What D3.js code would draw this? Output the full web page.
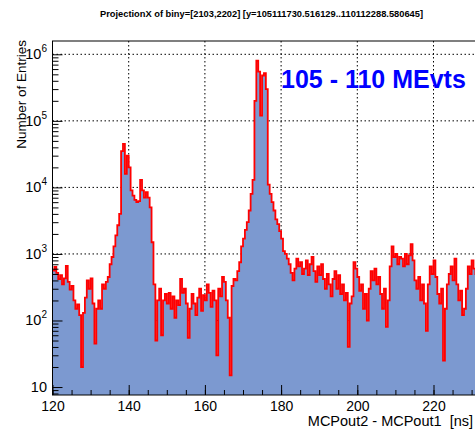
<!DOCTYPE html>
<html><head><meta charset="utf-8">
<script src="https://cdn.jsdelivr.net/npm/d3@7"></script>
<style>
body{margin:0;background:#fff}
svg{display:block}
text{font-family:"Liberation Sans",Arial,Helvetica,sans-serif}
</style></head>
<body><svg id="c" width="475" height="430"></svg>
<script>
const titleText = "ProjectionX of biny=[2103,2202] [y=105111730.516129..110112288.580645]";
const xLabel = "MCPout2 - MCPout1\u00A0\u00A0[ns]";
const yLabel = "Number of Entries";
const legendText = "105 - 110 MEvts";
const binStart = 120;
const binWidth = 0.5;
const counts = [
 560,640,520,420,480,350,430,660,380,290, 330,200,150,175,120,20,130,220,400,300,
 430,180,45,150,200,150,350,300,380,450, 700,900,1300,1900,2700,4000,35000,45000,16000,30000,
 20000,9000,7500,6500,6000,6200,13000,9000,7000,8500, 7000,5000,1500,350,50,200,300,60,200,250,
 180,260,150,230,110,200,170,420,260,300, 180,55,150,250,180,120,220,300,140,240,
 200,350,260,160,280,200,30,300,230,450, 380,200,110,15,330,420,400,550,750,1300,
 1700,2300,3000,4500,8000,13000,200000,800000,550000,120000, 480000,520000,300000,11000,8000,6000,4500,3300,2800,2200,
 1700,1100,1000,850,700,520,400,600,850,650, 750,500,600,800,480,700,900,550,380,650,
 480,700,420,300,500,350,230,420,550,300, 480,250,350,200,260,40,180,230,750,600,
 450,280,350,150,250,100,300,550,400,600, 350,450,250,150,300,80,200,650,1300,900,
 1000,700,900,850,650,1000,700,950,1400,800, 400,300,450,200,350,180,70,350,650,500,
 800,450,250,180,300,25,150,350,500,650, 400,850,350,200,280,120,150,300,650,500,
 800,600,500,700
];
const xDomain = [120, 240];
const yDomain = [7.59, 1.585e6];
const xTickValues = [120, 140, 160, 180, 200, 220];
const xGridValues = [140, 160, 180, 200, 220];
const yTickExponents = [1, 2, 3, 4, 5, 6];

const svg = d3.select("#c");
const L = 52.5, T = 41, B = 395, R = 52.5 + 120 * 3.81;
const x = d3.scaleLinear().domain(xDomain).range([L, R]);
const y = d3.scaleLog().domain(yDomain).range([B, T]);

svg.append("defs").append("clipPath").attr("id", "pc")
  .append("rect").attr("x", L).attr("y", T).attr("width", R - L).attr("height", B - T);

const plot = svg.append("g").attr("clip-path", "url(#pc)");

// grid
plot.selectAll("line.gx").data(xGridValues).join("line")
  .attr("x1", d => x(d)).attr("x2", d => x(d)).attr("y1", T).attr("y2", B)
  .attr("stroke", "#000").attr("stroke-width", 1).attr("stroke-dasharray", "1.5,2.5");
plot.selectAll("line.gy").data(yTickExponents).join("line")
  .attr("x1", L).attr("x2", R).attr("y1", d => y(Math.pow(10, d))).attr("y2", d => y(Math.pow(10, d)))
  .attr("stroke", "#000").attr("stroke-width", 1).attr("stroke-dasharray", "1.5,2.5");

// histogram data
const pts = counts.map((v, i) => ({x: binStart + i * binWidth, v}));
pts.push({x: binStart + counts.length * binWidth, v: counts[counts.length - 1]});

const area = d3.area().x(d => x(d.x)).y0(B).y1(d => y(d.v)).curve(d3.curveStepAfter);
const line = d3.line().x(d => x(d.x)).y(d => y(d.v)).curve(d3.curveStepAfter);

plot.append("path").attr("d", area(pts)).attr("fill", "#7c99d0");
plot.append("path").attr("d", line(pts)).attr("fill", "none").attr("stroke", "#ff0000")
  .attr("stroke-width", 1.8).attr("stroke-linejoin", "miter");

// frame
svg.append("rect").attr("x", L).attr("y", T).attr("width", R - L).attr("height", B - T)
  .attr("fill", "none").attr("stroke", "#000").attr("stroke-width", 1);

// x axis ticks
const xMinor = d3.range(120, 241, 5);
svg.append("g").attr("transform", `translate(0,${B})`)
  .call(d3.axisBottom(x).tickValues(xMinor).tickSize(-5).tickFormat(""))
  .call(g => g.select(".domain").remove())
  .selectAll("line").attr("stroke", "#000");
const xa = svg.append("g").attr("transform", `translate(0,${B})`)
  .call(d3.axisBottom(x).tickValues(xTickValues).tickSize(-10).tickPadding(6).tickFormat(d3.format("d")));
xa.select(".domain").remove();
xa.selectAll("line").attr("stroke", "#000");
xa.selectAll("text").attr("font-size", 14).attr("fill", "#000")
  .attr("font-family", '"Liberation Sans",Arial,sans-serif');

// y axis ticks
const yMinor = [];
for (let e = 0; e <= 6; e++) for (let m = 2; m <= 9; m++) {
  const v = m * Math.pow(10, e);
  if (v >= yDomain[0] && v <= yDomain[1]) yMinor.push(v);
}
svg.append("g").attr("transform", `translate(${L},0)`)
  .call(d3.axisLeft(y).tickValues(yMinor).tickSize(-6).tickFormat(""))
  .call(g => g.select(".domain").remove())
  .selectAll("line").attr("stroke", "#000");
svg.append("g").attr("transform", `translate(${L},0)`)
  .call(d3.axisLeft(y).tickValues(yTickExponents.map(e => Math.pow(10, e))).tickSize(-10).tickFormat(""))
  .call(g => g.select(".domain").remove())
  .selectAll("line").attr("stroke", "#000");

// y labels with superscripts
const yl = svg.append("g");
yTickExponents.forEach(e => {
  const t = yl.append("text").attr("x", 47).attr("y", y(Math.pow(10, e)) + 5)
    .attr("text-anchor", "end").attr("font-size", 14.5).attr("fill", "#000");
  t.append("tspan").text("10");
  if (e !== 1) t.append("tspan").attr("font-size", 10).attr("dy", -7).text(String(e));
});

// titles
svg.append("text").attr("x", 261.5).attr("y", 17).attr("text-anchor", "middle")
  .attr("font-size", 8.5).attr("font-weight", "bold").attr("textLength", 323).attr("lengthAdjust", "spacingAndGlyphs")
  .attr("fill", "#000").text(titleText);
svg.append("text").attr("x", 473).attr("y", 426).attr("text-anchor", "end")
  .attr("font-size", 14.5).attr("fill", "#000").text(xLabel);
svg.append("text").attr("transform", "translate(26,40) rotate(-90)").attr("text-anchor", "end")
  .attr("font-size", 13.5).attr("fill", "#000").text(yLabel);

// legend text
svg.append("text").attr("x", 281).attr("y", 88).attr("font-size", 25).attr("font-weight", "bold")
  .attr("fill", "#0000ff").text(legendText);
</script>
</body></html>
